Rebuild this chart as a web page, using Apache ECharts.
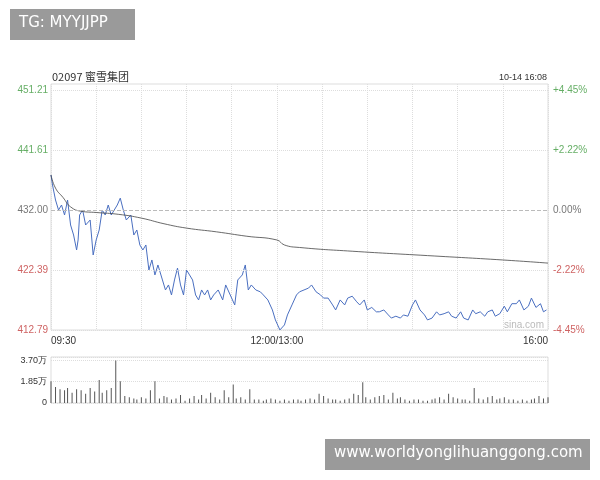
<!DOCTYPE html>
<html><head><meta charset="utf-8">
<script src="https://cdn.jsdelivr.net/npm/echarts@6/dist/echarts.min.js"></script>
<style>html,body{margin:0;padding:0;background:#fff}#c{width:600px;height:480px}</style>
</head><body><div id="c"></div>
<script>
const title = '02097 蜜雪集团';
const stamp = '10-14 16:08';
const prevClose = 432.00;
const priceTicks = [412.79, 422.39, 432.00, 441.61, 451.21];
const pctTicks = ['-4.45%', '-2.22%', '0.00%', '+2.22%', '+4.45%'];
const timeLabels = {0: '09:30', 150: '12:00/13:00', 330: '16:00'};
const priceMin = [0,1,3,5,7,9,11,13,15,17,18,19,21,23,26,28,30,32,34,36,38,40,42,44,46,48,50,53,55,57,59,61,63,65,67,69,71,74,76,78,80,82,84,86,88,90,92,94,96,98,100,102,104,106,108,111,114,116,119,122,124,127,129,131,133,136,139,141,144,147,149,152,155,157,160,163,165,168,171,173,176,179,181,184,187,189,192,195,197,200,203,205,208,210,213,216,218,221,224,226,229,232,234,237,240,242,245,248,250,253,256,258,261,264,266,269,272,274,277,280,282,285,288,290,293,295,298,301,303,306,309,311,314,317,319,322,325,327,329];
const priceVal = [437.6,436.0,433.6,432.0,432.8,431.2,433.6,429.6,428.0,425.6,427.2,431.2,432.0,429.6,430.4,424.8,427.2,428.8,432.0,431.2,432.8,431.2,432.0,432.8,433.9,432.0,430.4,431.2,428.0,428.8,426.4,425.6,426.4,422.4,424.0,421.6,423.2,420.8,419.2,420.0,418.4,420.8,422.7,420.0,418.4,422.4,421.6,420.8,418.4,417.6,419.2,418.4,419.2,417.6,418.4,419.2,417.6,420.0,418.4,416.8,420.8,421.6,423.2,419.2,420.0,419.2,418.9,418.4,417.6,416.0,414.4,412.8,413.6,415.2,416.8,418.4,418.9,419.2,419.5,420.0,418.9,418.4,417.9,417.9,416.8,416.0,417.6,416.8,417.9,418.2,417.3,416.8,417.6,416.0,416.4,415.7,415.7,416.0,415.2,414.7,415.0,414.7,415.2,415.0,416.8,417.6,416.0,415.2,414.4,414.7,415.7,415.2,415.4,415.7,415.0,414.7,415.7,414.7,414.4,416.0,415.4,415.7,415.0,415.7,416.0,415.0,415.4,416.6,415.7,417.0,417.0,417.6,416.0,416.6,417.9,416.4,417.0,415.7,416.0];
const avgMin = [0,3,8,13,20,30,45,60,75,90,110,130,150,155,165,200,250,300,330];
const avgVal = [437.6,435.5,434.0,432.5,431.8,431.6,431.3,430.7,429.8,429.1,428.5,427.8,427.2,426.4,426.0,425.4,424.7,424.0,423.5];
const volTicks = ['0', '1.85万', '3.70万'];
const volVal = [1.9,1.4,1.2,1.1,1.3,0.9,1.2,1.1,0.8,1.3,1.0,2.0,0.9,1.1,1.3,3.7,1.9,0.6,0.5,0.4,0.3,0.5,0.4,1.1,1.9,0.4,0.6,0.5,0.3,0.4,0.7,0.2,0.4,0.6,0.3,0.7,0.4,0.9,0.5,0.3,1.1,0.5,1.6,0.4,0.5,0.3,1.2,0.3,0.3,0.2,0.3,0.4,0.3,0.2,0.3,0.2,0.3,0.3,0.2,0.3,0.4,0.3,0.8,0.6,0.4,0.3,0.3,0.2,0.3,0.4,0.8,0.7,1.8,0.5,0.3,0.5,0.6,0.7,0.3,0.9,0.4,0.5,0.3,0.2,0.3,0.3,0.2,0.2,0.3,0.4,0.5,0.3,0.8,0.5,0.4,0.3,0.3,0.2,1.3,0.4,0.3,0.5,0.6,0.3,0.4,0.5,0.3,0.3,0.2,0.3,0.2,0.3,0.4,0.6,0.4,0.5];

const pricePts = priceMin.map((m,i)=>[m, priceVal[i]]);
const avgPts = avgMin.map((m,i)=>[m, avgVal[i]]);
const volPts = volVal.map((v,i)=>[Math.round(i*330/(volVal.length-1)), v]);
const tickColor = v => v > prevClose + 0.01 ? '#3f9a3f' : (v < prevClose - 0.01 ? '#c23b3b' : '#555');
const pctColor = s => s.startsWith('+') ? '#3f9a3f' : (s.startsWith('-') ? '#c23b3b' : '#555');
const dotted = {show:true, lineStyle:{color:'#ddd', type:'dotted'}};

const chart = echarts.init(document.getElementById('c'));
chart.setOption({
  animation:false,
  textStyle:{fontFamily:'Liberation Sans, DejaVu Sans'},
  graphic:[
    {type:'rect', shape:{x:10,y:9,width:125,height:31}, style:{fill:'#9a9a9a'}},
    {type:'text', left:19, top:16, style:{text:'TG: MYYJJPP', fill:'#fff', fontSize:15, fontFamily:'DejaVu Sans'}},
    {type:'rect', shape:{x:325,y:439,width:265,height:31}, style:{fill:'#9a9a9a'}},
    {type:'text', left:334, top:446, style:{text:'www.worldyonglihuanggong.com', fill:'#fff', fontSize:15, fontFamily:'DejaVu Sans'}},
    {type:'text', left:52, top:71, style:{text:title, fill:'#333', fontSize:11, fontFamily:'Noto Sans CJK SC'}},
    {type:'text', right:53, top:73, style:{text:stamp, fill:'#333', fontSize:9}},
    {type:'text', right:56, top:320, style:{text:'sina.com', fill:'#bbb', fontSize:10}}
  ],
  grid:[
    {left:51, right:52, top:84, height:246, show:true, borderColor:'#ddd'},
    {left:51, right:52, top:357, height:46, show:true, borderColor:'#ddd'}
  ],
  xAxis:[
    {type:'value', gridIndex:0, min:0, max:330, interval:30, axisLine:{show:false}, axisTick:{show:false}, splitLine:dotted,
     axisLabel:{color:'#333', fontSize:10, margin:6, showMinLabel:true, showMaxLabel:true, formatter:v => timeLabels[v] || '',
       alignMinLabel:'left', alignMaxLabel:'right'}},
    {type:'value', gridIndex:1, min:0, max:330, interval:30, axisLine:{show:false}, axisTick:{show:false}, splitLine:{show:false}, axisLabel:{show:false}}
  ],
  yAxis:[
    {type:'value', gridIndex:0, min:412.79, max:452.17, axisLine:{show:false}, axisTick:{show:false},
     splitLine:{show:false}, axisLabel:{show:false}},
    {type:'value', gridIndex:1, min:0, max:4.0, interval:1.85, axisLine:{show:false}, axisTick:{show:false},
     splitLine:dotted, axisLabel:{color:'#333', fontSize:9, margin:4, formatter:v => volTicks[Math.round(v/1.85)] || ''}}
  ],
  series:[
    {type:'line', xAxisIndex:0, yAxisIndex:0, data:pricePts, showSymbol:false, lineStyle:{color:'#4a6fc0', width:1},
     markLine:{silent:true, symbol:'none', label:{show:false},
       data: priceTicks.map(v=>({yAxis:v, lineStyle:{color: v===prevClose?'#bbb':'#ddd', type: v===prevClose?'dashed':'dotted', width:1}}))}},
    {type:'line', xAxisIndex:0, yAxisIndex:0, data:avgPts, showSymbol:false, smooth:true, lineStyle:{color:'#444', width:0.8}},
    {type:'bar', xAxisIndex:1, yAxisIndex:1, data:volPts, barWidth:1, itemStyle:{color:'#555'}},
    {type:'scatter', xAxisIndex:0, yAxisIndex:0, symbolSize:0,
     data:priceTicks.map(v=>({value:[0,v], label:{color:tickColor(v)}})),
     label:{show:true, position:'left', distance:3, fontSize:10, formatter:p=>p.value[1].toFixed(2)}},
    {type:'scatter', xAxisIndex:0, yAxisIndex:0, symbolSize:0,
     data:priceTicks.map((v,i)=>({value:[330,v,pctTicks[i]], label:{color:pctColor(pctTicks[i])}})),
     label:{show:true, position:'right', distance:5, fontSize:10, formatter:p=>p.value[2]}}
  ]
});
</script></body></html>
